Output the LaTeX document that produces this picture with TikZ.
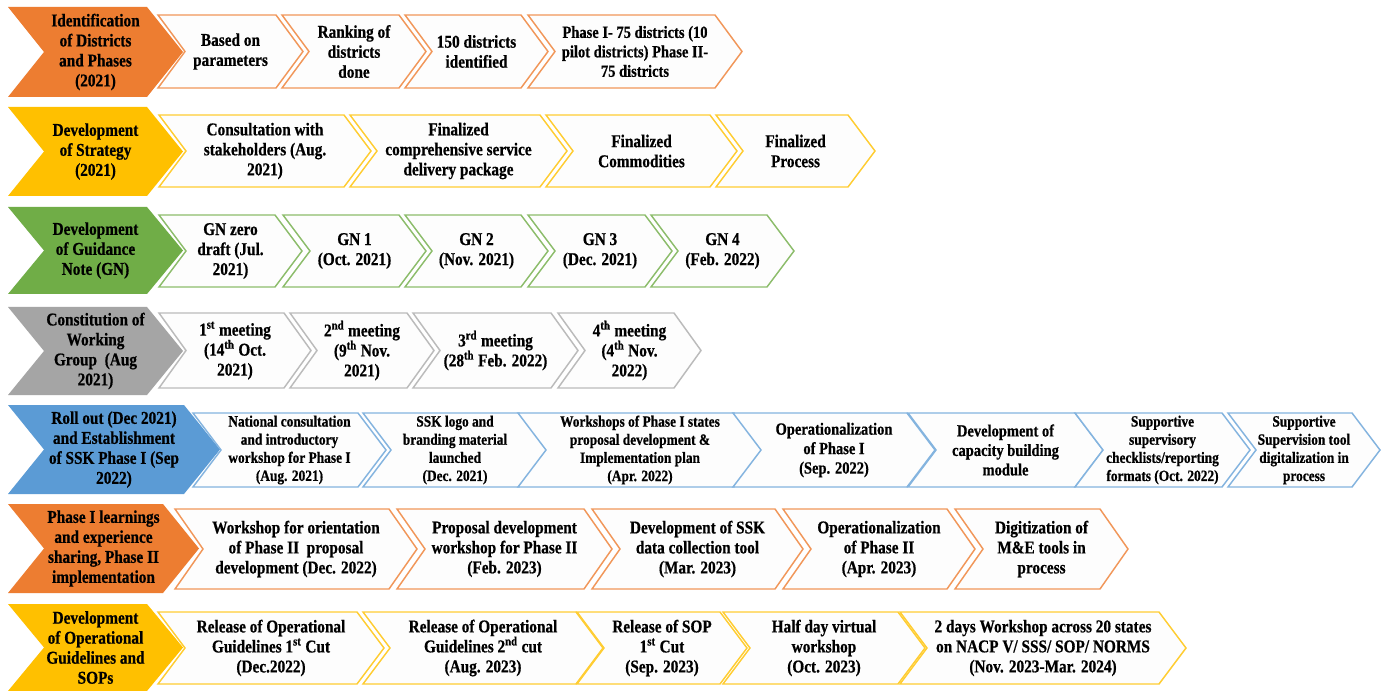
\documentclass[tikz,border=0pt]{standalone}
\usepackage{fontspec}
\setmainfont{Liberation Serif}[FakeStretch=0.85,BoldFeatures={FakeBold=0.6}]
\definecolor{corange}{HTML}{ED7D31}
\definecolor{cyellow}{HTML}{FFC000}
\definecolor{cgreen}{HTML}{70AD47}
\definecolor{cgray}{HTML}{A5A5A5}
\definecolor{cblue}{HTML}{5B9BD5}
\definecolor{itemfill}{HTML}{FDFDFD}
\newcommand\fmain{\fontsize{13.5}{15}\selectfont}
\newcommand\fmid{\fontsize{12.8}{14.6}\selectfont}
\newcommand\fsmall{\fontsize{11.8}{13.6}\selectfont}
\tikzset{
  hdr/.style={fill=#1, draw=none},
  itm/.style={fill=itemfill, draw=#1, line width=1.1pt, line join=miter},
  lbl/.style={font=\bfseries\fmain, align=center, inner sep=0pt, text=black},
  mid/.style={font=\bfseries\fmid},
  sml/.style={font=\bfseries\fsmall},
}
% chevron: shape style, name, left x, tip x, top y, bottom y, point depth, label options, label
\newcommand\stage[9]{%
  \path[#1] (#3,#5) -- ({#4-#7},#5) -- (#4,{(#5+#6)/2}) -- ({#4-#7},#6)
    -- (#3,#6) -- ({#3+#7},{(#5+#6)/2}) -- cycle;
  \node[lbl,#8] (#2) at ({(#3+#4)/2},{(#5+#6)/2}) {#9};
}
\begin{document}
\begin{tikzpicture}[x=0.75pt,y=-0.75pt]
\fill[white] (0,0) rectangle (1387,691);
\useasboundingbox (0,0) rectangle (1387,691);

% identification of districts
\stage{hdr=corange}{h1}{8}{183}{7}{97}{36}{}{Identification\\of Districts\\and Phases\\(2021)}
\stage{itm=corange!80!white}{a1}{158}{303}{15}{88}{27}{}{Based on\\parameters}
\stage{itm=corange!80!white}{a2}{282}{426}{15}{88}{27}{}{Ranking of\\districts\\done}
\stage{itm=corange!80!white}{a3}{405}{548}{15}{88}{27}{}{150 districts\\identified}
\stage{itm=corange!80!white}{a4}{528}{742}{15}{88}{27}{mid}{Phase I- 75 districts (10\\pilot districts) Phase II-\\75 districts}

% strategy
\stage{hdr=cyellow}{h2}{8}{183}{107}{196}{36}{}{Development\\of Strategy\\(2021)}
\stage{itm=cyellow!80!white}{b1}{159}{371}{115}{187}{27}{}{Consultation with\\stakeholders (Aug.\\2021)}
\stage{itm=cyellow!80!white}{b2}{350}{567}{115}{187}{27}{}{Finalized\\comprehensive service\\delivery package}
\stage{itm=cyellow!80!white}{b3}{546}{737}{115}{187}{27}{}{Finalized\\Commodities}
\stage{itm=cyellow!80!white}{b4}{716}{875}{115}{187}{27}{}{Finalized\\Process}

% guidance note
\stage{hdr=cgreen}{h3}{8}{183}{207}{294}{36}{}{Development\\of Guidance\\Note (GN)}
\stage{itm=cgreen!80!white}{c1}{159}{302}{215}{287}{27}{}{GN zero\\draft (Jul.\\2021)}
\stage{itm=cgreen!80!white}{c2}{283}{426}{215}{287}{27}{}{GN 1\\(Oct. 2021)}
\stage{itm=cgreen!80!white}{c3}{405}{548}{215}{287}{27}{}{GN 2\\(Nov. 2021)}
\stage{itm=cgreen!80!white}{c4}{528}{672}{215}{287}{27}{}{GN 3\\(Dec. 2021)}
\stage{itm=cgreen!80!white}{c5}{651}{794}{215}{287}{27}{}{GN 4\\(Feb. 2022)}

% working group
\stage{hdr=cgray}{h4}{8}{183}{307}{395}{36}{}{Constitution of\\Working\\Group\ \ (Aug\\2021)}
\stage{itm=cgray!75!white}{d1}{159}{311}{313}{388}{27}{}{1\textsuperscript{st} meeting\\(14\textsuperscript{th} Oct.\\2021)}
\stage{itm=cgray!75!white}{d2}{290}{434}{313}{388}{27}{}{2\textsuperscript{nd} meeting\\(9\textsuperscript{th} Nov.\\2021)}
\stage{itm=cgray!75!white}{d3}{413}{578}{313}{388}{27}{}{3\textsuperscript{rd} meeting\\(28\textsuperscript{th} Feb. 2022)}
\stage{itm=cgray!75!white}{d4}{558}{701}{313}{388}{27}{}{4\textsuperscript{th} meeting\\(4\textsuperscript{th} Nov.\\2022)}

% roll out
\stage{hdr=cblue}{h5}{8}{220}{405}{494}{36}{}{Roll out (Dec 2021)\\and Establishment\\of SSK Phase I (Sep\\2022)}
\stage{itm=cblue!75!white}{e1}{193}{386}{413}{487}{28}{sml}{National consultation\\and introductory\\workshop for Phase I\\(Aug. 2021)}
\stage{itm=cblue!75!white}{e2}{363}{547}{413}{487}{28}{sml}{SSK logo and\\branding material\\launched\\(Dec. 2021)}
\stage{itm=cblue!75!white}{e3}{518}{762}{413}{487}{28}{sml}{Workshops of Phase I states\\proposal development \&\\Implementation plan\\(Apr. 2022)}
\stage{itm=cblue!75!white}{e4}{733}{935}{413}{487}{28}{mid}{Operationalization\\of Phase I\\(Sep. 2022)}
\stage{itm=cblue!75!white}{e5}{908}{1103}{413}{487}{28}{mid}{Development of\\capacity building\\module}
\stage{itm=cblue!75!white}{e6}{1075}{1250}{413}{487}{28}{sml}{Supportive\\supervisory\\checklists/reporting\\formats (Oct. 2022)}
\stage{itm=cblue!75!white}{e7}{1228}{1380}{413}{487}{28}{sml}{Supportive\\Supervision tool\\digitalization in\\process}

% phase II
\stage{hdr=corange}{h6}{8}{199}{504}{593}{36}{}{Phase I learnings\\and experience\\sharing, Phase II\\implementation}
\stage{itm=corange!80!white}{f1}{175}{417}{509}{589}{28}{}{Workshop for orientation\\of Phase II\ \ proposal\\development (Dec. 2022)}
\stage{itm=corange!80!white}{f2}{397}{612}{509}{589}{28}{}{Proposal development\\workshop for Phase II\\(Feb. 2023)}
\stage{itm=corange!80!white}{f3}{592}{803}{509}{589}{28}{}{Development of SSK\\data collection tool\\(Mar. 2023)}
\stage{itm=corange!80!white}{f4}{783}{975}{509}{589}{28}{}{Operationalization\\of Phase II\\(Apr. 2023)}
\stage{itm=corange!80!white}{f5}{955}{1128}{509}{589}{28}{}{Digitization of\\M\&E tools in\\process}

% operational guidelines
\stage{hdr=cyellow}{h7}{8}{183}{604}{691}{36}{}{Development\\of Operational\\Guidelines and\\SOPs}
\stage{itm=cyellow!80!white}{g1}{158}{384}{612}{684}{27}{}{Release of Operational\\Guidelines 1\textsuperscript{st} Cut\\(Dec.2022)}
\stage{itm=cyellow!80!white}{g2}{363}{603}{612}{684}{27}{}{Release of Operational\\Guidelines 2\textsuperscript{nd} cut\\(Aug. 2023)}
\stage{itm=cyellow!80!white}{g3}{577}{747}{612}{684}{27}{}{Release of SOP\\1\textsuperscript{st} Cut\\(Sep. 2023)}
\stage{itm=cyellow!80!white}{g4}{723}{925}{612}{684}{27}{}{Half day virtual\\workshop\\(Oct. 2023)}
\stage{itm=cyellow!80!white}{g5}{900}{1186}{612}{684}{27}{}{2 days Workshop across 20 states\\on NACP V/ SSS/ SOP/ NORMS\\(Nov. 2023-Mar. 2024)}
\end{tikzpicture}
\end{document}
